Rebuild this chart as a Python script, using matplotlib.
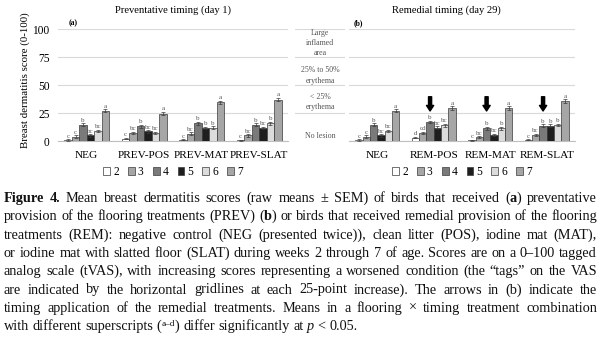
import numpy as np
import matplotlib.pyplot as plt
from matplotlib.patches import Patch

plt.rcParams['font.family'] = ['Liberation Serif', 'DejaVu Serif']

weeks = ['2', '3', '4', '5', '6', '7']
prev_groups = ['NEG', 'PREV-POS', 'PREV-MAT', 'PREV-SLAT']
rem_groups = ['NEG', 'REM-POS', 'REM-MAT', 'REM-SLAT']

# rows: flooring treatment, columns: week 2..7
prev_means = [[1.0, 4.0, 14.5, 5.0, 9.0, 27.0],
              [2.0, 7.0, 13.0, 8.5, 7.0, 24.5],
              [1.0, 6.5, 16.0, 11.5, 12.0, 34.5],
              [0.5, 5.0, 14.5, 11.5, 16.0, 37.0]]
prev_sem = [[0.6, 1.0, 1.3, 1.0, 1.1, 1.4],
            [0.6, 1.1, 1.3, 1.1, 1.0, 1.4],
            [0.5, 1.1, 1.3, 1.2, 1.2, 1.5],
            [0.4, 1.0, 1.3, 1.2, 1.3, 1.5]]
prev_letters = [['c', 'c', 'b', 'bc', 'bc', 'a'],
                ['c', 'bc', 'b', 'bc', 'bc', 'a'],
                ['c', 'bc', 'b', 'b', 'b', 'a'],
                ['c', 'bc', 'b', 'bc', 'b', 'a']]

rem_means = [[1.0, 4.0, 14.5, 5.0, 9.0, 27.0],
             [3.0, 7.0, 17.0, 12.0, 14.0, 29.5],
             [0.5, 3.3, 11.3, 5.3, 11.3, 29.5],
             [1.0, 5.4, 13.7, 13.7, 14.2, 35.7]]
rem_sem = [[0.6, 1.0, 1.3, 1.0, 1.1, 1.4],
           [0.7, 1.1, 1.3, 1.2, 1.2, 1.5],
           [0.4, 1.0, 1.2, 1.0, 1.2, 1.5],
           [0.5, 1.0, 1.3, 1.2, 1.2, 1.5]]
rem_letters = [['c', 'c', 'b', 'bc', 'bc', 'a'],
               ['d', 'cd', 'b', 'bc', 'bc', 'a'],
               ['c', 'bc', 'b', 'bc', 'b', 'a'],
               ['c', 'bc', 'b', 'b', 'b', 'a']]

# remedial treatments applied at week 4 (arrow from/to score)
arrow_groups = [1, 2, 3]
arrow_week = 2
arrow_from, arrow_to = 39.5, 26.8

tag_labels = ['Large\ninflamed\narea', '25% to 50%\nerythema', '< 25%\nerythema', 'No lesion']
tag_y = [87.5, 58.5, 34.5, 4.5]

week_colors = ['#ffffff', '#a6a6a6', '#7a7a7a', '#1e1e1e', '#dcdcdc', '#a6a6a6']
grid_color = '#d9d9d9'
text_gray = '#555555'
bar_w = 0.13

fig = plt.figure(figsize=(6.0, 3.38), dpi=100)
W, H = 600.0, 338.0


def px_axes(x0, x1, y_top, y_bot):
    return fig.add_axes([x0 / W, 1 - y_bot / H, (x1 - x0) / W, (y_bot - y_top) / H])


def draw_panel(ax, groups, means, sems, letters):
    means = np.array(means)
    sems = np.array(sems)
    x = np.arange(len(groups))
    for j, wk in enumerate(weeks):
        xj = x + (j - 2.5) * bar_w
        ax.bar(xj, means[:, j], bar_w, color=week_colors[j], edgecolor='#3a3a3a',
               linewidth=0.5, zorder=3)
        ax.errorbar(xj, means[:, j], yerr=sems[:, j], fmt='none', ecolor='#3a3a3a',
                    elinewidth=0.5, capsize=1.5, capthick=0.5, zorder=4)
        for i in range(len(groups)):
            ax.text(xj[i], means[i, j] + sems[i, j] + 0.6, letters[i][j], ha='center',
                    va='bottom', fontsize=5, color=text_gray, zorder=5)
    ax.set_xlim(-0.5, len(groups) - 0.5)
    ax.set_ylim(0, 100)
    ax.set_yticks([0, 25, 50, 75, 100])
    ax.set_xticks(x)
    ax.set_xticklabels(groups, fontsize=8.1)
    ax.tick_params(axis='x', length=0, pad=7)
    ax.tick_params(axis='y', length=0, pad=6, labelsize=8.3)
    for s in ['top', 'right', 'left']:
        ax.spines[s].set_visible(False)
    ax.spines['bottom'].set_color('#bfbfbf')
    ax.spines['bottom'].set_linewidth(0.8)
    ax.yaxis.grid(True, color=grid_color, linewidth=0.8, zorder=0)
    ax.set_axisbelow(True)
    handles = [Patch(facecolor=c, edgecolor='#3a3a3a', linewidth=0.5) for c in week_colors]
    ax.legend(handles, weeks, ncol=6, loc='center', bbox_to_anchor=(0.5, -0.277),
              frameon=False, fontsize=8.3, handlelength=0.6, handleheight=0.6,
              handletextpad=0.25, columnspacing=0.8, borderpad=0)


ax1 = px_axes(58, 288, 29, 141)
draw_panel(ax1, prev_groups, prev_means, prev_sem, prev_letters)
ax1.set_ylabel('Breast dermatitis score (0-100)', fontsize=7.8)
ax1.yaxis.set_label_coords(-0.122, 0.545)
ax1.text(0.5, 1.17, 'Preventative timing (day 1)', transform=ax1.transAxes,
         ha='center', va='center', fontsize=7.6)
ax1.text(0.045, 1.05, '(a)', transform=ax1.transAxes, ha='left', va='center',
         fontsize=5.5, fontweight='bold')

ax2 = px_axes(349, 575, 29, 141)
draw_panel(ax2, rem_groups, rem_means, rem_sem, rem_letters)
ax2.tick_params(axis='y', labelleft=False)
ax2.text(0.43, 1.17, 'Remedial timing (day 29)', transform=ax2.transAxes,
         ha='center', va='center', fontsize=7.6)
ax2.text(0.02, 1.05, '(b)', transform=ax2.transAxes, ha='left', va='center',
         fontsize=5.5, fontweight='bold')
for g in arrow_groups:
    xa = g + (arrow_week - 2.5) * bar_w
    ax2.annotate('', xy=(xa, arrow_to), xytext=(xa, arrow_from),
                 arrowprops=dict(arrowstyle='simple,head_length=0.5,head_width=0.65,tail_width=0.28',
                                 color='black', mutation_scale=8, shrinkA=0, shrinkB=0),
                 zorder=6)

# column of tVAS tag descriptions
ax3 = px_axes(295, 345, 29, 141)
ax3.set_xlim(0, 1)
ax3.set_ylim(0, 100)
ax3.axis('off')
for yv in [25, 50, 75, 100]:
    ax3.axhline(yv, color=grid_color, linewidth=0.8)
for lab, yv in zip(tag_labels, tag_y):
    ax3.text(0.5, yv, lab, ha='center', va='center', fontsize=5.7, color=text_gray,
             linespacing=1.35)

# justified caption text; * bold, _ italic, ^ superscript
caption_lines = [
    '*Figure 4.* Mean breast dermatitis scores (raw means ± SEM) of birds that received (*a*) preventative',
    'provision of the flooring treatments (PREV) (*b*) or birds that received remedial provision of the flooring',
    'treatments (REM): negative control (NEG (presented twice)), clean litter (POS), iodine mat (MAT),',
    'or iodine mat with slatted floor (SLAT) during weeks 2 through 7 of age. Scores are on a 0–100 tagged',
    'analog scale (tVAS), with increasing scores representing a worsened condition (the “tags” on the VAS',
    'are indicated by the horizontal gridlines at each 25-point increase).  The arrows in (b) indicate the',
    'timing application of the remedial treatments. Means in a flooring × timing treatment combination',
    'with different superscripts (^a–d^) differ significantly at _p_ < 0.05.',
]
cap_size = 10.3
cap_left, cap_right = 4, 597
cap_top, cap_step = 202, 18.3


def parse_words(line):
    words, cur, seg, style = [], [], '', 'n'
    marks = {'*': 'b', '_': 'i', '^': 's'}
    for ch in line:
        if ch in marks:
            if seg:
                cur.append((seg, style))
                seg = ''
            style = 'n' if style == marks[ch] else marks[ch]
        elif ch == ' ':
            if seg:
                cur.append((seg, style))
                seg = ''
            if cur:
                words.append(cur)
                cur = []
        else:
            seg += ch
    if seg:
        cur.append((seg, style))
    if cur:
        words.append(cur)
    return words


renderer = fig.canvas.get_renderer()
space_px = 0.25 * cap_size * 100 / 72
for k, line in enumerate(caption_lines):
    yb = cap_top + k * cap_step
    words = parse_words(line)
    placed = []
    for w in words:
        items = []
        for txt, st in w:
            kw = dict(fontsize=cap_size, va='baseline', ha='left', color='#111111')
            yy = yb
            if st == 'b':
                kw['fontweight'] = 'bold'
            elif st == 'i':
                kw['fontstyle'] = 'italic'
            elif st == 's':
                kw['fontsize'] = cap_size * 0.65
                yy = yb - 4.5
            t = fig.text(0, 1 - yy / H, txt, **kw)
            items.append((t, t.get_window_extent(renderer).width))
        placed.append(items)
    total = sum(wd for items in placed for _, wd in items)
    if k == len(caption_lines) - 1:
        gap = space_px
    else:
        gap = (cap_right - cap_left - total) / (len(placed) - 1)
    x = cap_left
    for items in placed:
        for t, wd in items:
            t.set_x(x / W)
            x += wd
        x += gap

fig.savefig('out.png', dpi=100)
